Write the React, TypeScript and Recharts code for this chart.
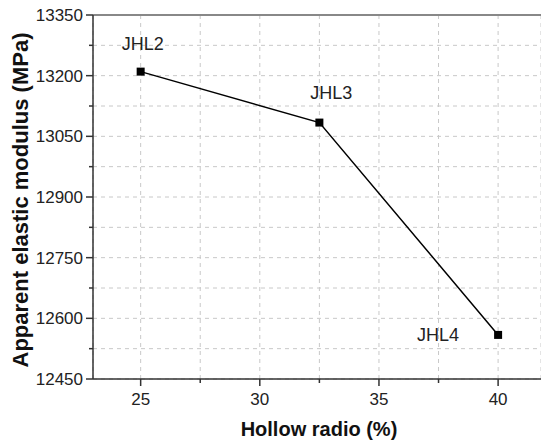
import React from "react"
import {
  LineChart, Line, XAxis, YAxis, CartesianGrid, ReferenceLine, LabelList,
} from "recharts"

// Hollow radio (%) vs apparent elastic modulus (MPa)
const specimens = ["JHL2", "JHL3", "JHL4"]
const hollowRadio = [25, 32.5, 40]
const modulus = [13210, 13084, 12559]

const xTicks = [25, 27.5, 30, 32.5, 35, 37.5, 40]
const xMajor = [25, 30, 35, 40]
const yTicks = [12450, 12525, 12600, 12675, 12750, 12825, 12900, 12975, 13050, 13125, 13200, 13275, 13350]
const yMajor = [12450, 12600, 12750, 12900, 13050, 13200, 13350]

const labelOffsets = [
  { dx: 2, dy: -28 },
  { dx: 12, dy: -30 },
  { dx: -60, dy: 0 },
]

const data = hollowRadio.map((h, i) => ({ name: specimens[i], hollow: h, modulus: modulus[i] }))

const FONT = "'Liberation Sans', Arial, sans-serif"
const AXIS = "#333"

function YTick(props: any) {
  const { x, y, payload } = props
  const major = yMajor.includes(payload.value)
  return (
    <g>
      <line x1={x} x2={x - (major ? 7 : 4)} y1={y} y2={y} stroke={AXIS} strokeWidth={1.5} />
      {major && (
        <text x={x - 10} y={y} dy={6} textAnchor="end" fontSize={17} fill="#222" fontFamily={FONT}>
          {payload.value}
        </text>
      )}
    </g>
  )
}

function XTick(props: any) {
  const { x, y, payload } = props
  const major = xMajor.includes(payload.value)
  return (
    <g>
      <line x1={x} x2={x} y1={y} y2={y + (major ? 7 : 4)} stroke={AXIS} strokeWidth={1.5} />
      {major && (
        <text x={x} y={y + 26} textAnchor="middle" fontSize={17} fill="#222" fontFamily={FONT}>
          {payload.value}
        </text>
      )}
    </g>
  )
}

function SquareDot(props: any) {
  const { cx, cy } = props
  return <rect x={cx - 4} y={cy - 4} width={8} height={8} fill="#000" />
}

function SpecimenLabel(props: any) {
  const { x, y, index, value } = props
  const off = labelOffsets[index]
  return (
    <text
      x={x + off.dx}
      y={y + off.dy}
      dy={6.5}
      textAnchor="middle"
      fontSize={18}
      fill="#222"
      fontFamily={FONT}
    >
      {value}
    </text>
  )
}

export default function App() {
  return (
    <div style={{ position: "absolute", left: 0, top: 0, width: 541, height: 441, overflow: "hidden", background: "#fff" }}>
      <LineChart
        width={541}
        height={441}
        data={data}
        margin={{ top: 15, right: 0, left: 0, bottom: 0 }}
        style={{ fontFamily: FONT }}
      >
        <CartesianGrid stroke="#c8c8c8" strokeDasharray="4 4" />
        <XAxis
          dataKey="hollow"
          type="number"
          domain={[23, 41.8]}
          ticks={xTicks}
          allowDataOverflow
          height={62}
          tickSize={0}
          tickMargin={0}
          tickLine={false}
          tick={<XTick />}
          stroke={AXIS}
          strokeWidth={1.5}
          interval={0}
          label={{
            content: () => (
              <text x={319} y={436} textAnchor="middle" fontSize={20} fontWeight="bold" fill="#111" fontFamily={FONT}>
                Hollow radio (%)
              </text>
            ),
          }}
        />
        <YAxis
          type="number"
          domain={[12450, 13350]}
          ticks={yTicks}
          allowDataOverflow
          width={93}
          tickSize={0}
          tickMargin={0}
          tickLine={false}
          tick={<YTick />}
          stroke={AXIS}
          strokeWidth={1.5}
          interval={0}
          label={{
            content: () => (
              <text
                x={20}
                y={200}
                transform="rotate(-90 20 200)"
                textAnchor="middle"
                dominantBaseline="central"
                fontSize={22}
                fontWeight="bold"
                fill="#111"
                fontFamily={FONT}
              >
                Apparent elastic modulus (MPa)
              </text>
            ),
          }}
        />
        <ReferenceLine y={13350} stroke="#888" strokeWidth={2} />
        <Line
          dataKey="modulus"
          type="linear"
          stroke="#000"
          strokeWidth={1.5}
          dot={<SquareDot />}
          activeDot={false}
          isAnimationActive={false}
        >
          <LabelList dataKey="name" content={<SpecimenLabel />} />
        </Line>
      </LineChart>
    </div>
  )
}
